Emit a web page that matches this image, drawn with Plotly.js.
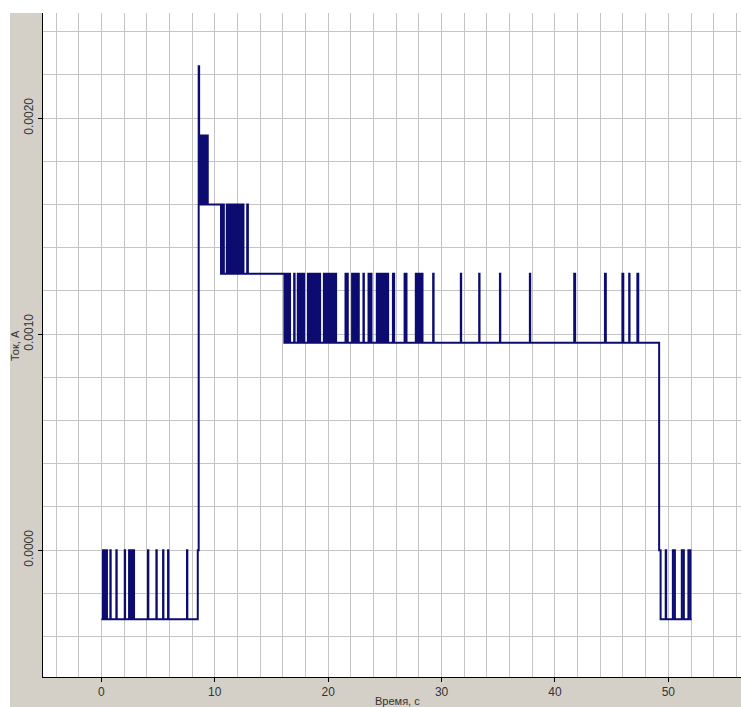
<!DOCTYPE html>
<html>
<head>
<meta charset="utf-8">
<script src="https://cdn.plot.ly/plotly-3.0.1.min.js"></script>
<style>
html,body{margin:0;padding:0;background:#ffffff;}
#chart{width:741px;height:707px;}
</style>
</head>
<body>
<div id="chart"></div>
<script>
// ---- Data (time in s, current in A) ----
// Segment A: idle, switching between -0.00032 A and 0.0000 A
const levelsA = [-0.00032, 0.0000];
const flipsA = [0.14, 0.20, 0.27, 0.34, 0.41, 0.49,
                0.79, 0.82, 1.32, 1.35, 2.06, 2.09,
                2.44, 2.52, 2.60, 2.68, 2.76, 2.88,
                4.11, 4.14, 4.85, 4.88, 5.44, 5.47, 5.88, 5.91, 7.55, 7.58,
                8.50];
// Turn-on peak
const peakTime = 8.58;
const peakLevel = 0.00224;
// Segment B: switching between 0.00160 A and 0.00192 A
const levelsB = [0.00160, 0.00192];
const startB = 8.62;
const flipsB = [8.70, 8.78, 8.86, 8.94, 9.02, 9.10, 9.18, 9.26, 9.38];
// Segment C: switching between 0.00128 A and 0.00160 A
const levelsC = [0.00128, 0.00160];
const flipsC = [10.55, 10.66, 10.80,
                11.06, 11.17, 11.28, 11.39, 11.50, 11.61, 11.72, 11.83, 11.94, 12.05, 12.16, 12.27, 12.38, 12.53,
                12.86, 12.92];
// Segment D: switching between 0.00096 A and 0.00128 A
const levelsD = [0.00096, 0.00128];
const flipsD = [16.14, 16.22, 16.30, 16.38, 16.46, 16.55, 16.64,
                17.00, 17.04,
                17.32, 17.40, 17.48, 17.56, 17.64, 17.72, 17.80, 17.88,
                18.21, 18.31, 18.41, 18.51, 18.61, 18.71, 18.80, 18.90, 19.00, 19.10, 19.20, 19.29,
                19.62, 19.72, 19.82, 19.92, 20.02, 20.12, 20.21, 20.31, 20.41, 20.51, 20.61, 20.70,
                21.53, 21.60, 21.66, 21.73,
                22.11, 22.19, 22.28, 22.36, 22.45, 22.53, 22.62, 22.70,
                23.11, 23.15,
                23.56, 23.65, 23.73, 23.82,
                24.29, 24.38, 24.47, 24.56, 24.65, 24.74, 24.83, 24.92, 25.01, 25.10, 25.20, 25.29,
                25.71, 25.82,
                26.74, 26.80, 26.86, 26.91,
                27.73, 27.81, 27.90, 27.98, 28.07, 28.15, 28.24, 28.32,
                29.26, 29.30,
                31.70, 31.73, 33.32, 33.35, 35.15, 35.18, 37.79, 37.82,
                41.70, 41.78, 44.41, 44.49, 45.95, 46.03, 46.55, 46.58, 47.27, 47.35];
// Turn-off
const offTime = 49.19;
const offLevel = 0.0000;
// Segment F: switching between -0.00032 A and 0.0000 A
const levelsF = [-0.00032, 0.0000];
const flipsF = [49.32, 49.77, 49.81, 50.40, 50.58, 51.19, 51.37, 51.77, 51.95];
const endTime = 52.06;

// Axis ticks
const xTickVals = [0, 10, 20, 30, 40, 50];
const xTickText = ['0', '10', '20', '30', '40', '50'];
const yTickVals = [0.0000, 0.0010, 0.0020];
const yTickText = ['0.0000', '0.0010', '0.0020'];

// ---- Build step signal ----
const xs = [0];
const ys = [levelsA[0]];
function addSegment(levels, startState, flips) {
  let s = startState;
  flips.forEach(function (t) {
    s = 1 - s;
    xs.push(t);
    ys.push(levels[s]);
  });
}
addSegment(levelsA, 0, flipsA);
xs.push(peakTime); ys.push(peakLevel);
xs.push(startB); ys.push(levelsB[1]);
addSegment(levelsB, 1, flipsB);
addSegment(levelsC, 1, flipsC);
addSegment(levelsD, 1, flipsD);
xs.push(offTime); ys.push(offLevel);
addSegment(levelsF, 1, flipsF);
xs.push(endTime); ys.push(levelsF[0]);

const trace = {
  x: xs, y: ys, type: 'scatter', mode: 'lines',
  line: {color: 'rgb(12,12,112)', width: 2, shape: 'hv'},
  hoverinfo: 'skip'
};

const gridCol = '#c4c4c4';
const W = 741, H = 707, L = 43, R = 0, T = 13, B = 30;
const pw = W - L - R, ph = H - T - B;

const layout = {
  width: W, height: H,
  margin: {l: L, r: R, t: T, b: B, pad: 0},
  paper_bgcolor: '#d4d0c8',
  plot_bgcolor: '#ffffff',
  showlegend: false,
  font: {family: '"Liberation Sans", Arial, sans-serif', size: 11, color: '#333333'},
  xaxis: {
    range: [-5.15, 56.41],
    tickmode: 'array', tickvals: xTickVals, ticktext: xTickText,
    ticks: 'outside', ticklen: 4, tickcolor: '#000000', tickwidth: 1,
    showgrid: true, gridcolor: gridCol, gridwidth: 1,
    minor: {dtick: 2, tick0: 0, showgrid: true, gridcolor: gridCol, gridwidth: 1, ticks: ''},
    zeroline: false,
    showline: true, linecolor: '#000000', linewidth: 1,
    tickfont: {size: 12, color: '#333333'},
    fixedrange: true
  },
  yaxis: {
    range: [-0.000587, 0.0024865],
    tickmode: 'array', tickvals: yTickVals, ticktext: yTickText,
    tickangle: -90,
    ticks: 'outside', ticklen: 4, tickcolor: '#000000', tickwidth: 1,
    showgrid: true, gridcolor: gridCol, gridwidth: 1,
    minor: {dtick: 0.0002, tick0: 0, showgrid: true, gridcolor: gridCol, gridwidth: 1, ticks: ''},
    zeroline: false,
    showline: true, linecolor: '#000000', linewidth: 1,
    tickfont: {size: 12, color: '#333333'},
    fixedrange: true
  },
  shapes: [
    {type: 'rect', xref: 'paper', yref: 'paper', x0: -L / pw - 0.01, x1: 1.01, y0: 1, y1: 1 + (T + 2) / ph,
     fillcolor: '#ffffff', line: {width: 0}, layer: 'above'},
    {type: 'rect', xref: 'paper', yref: 'paper', x0: -L / pw - 0.01, x1: (10 - L) / pw, y0: -B / ph - 0.01, y1: 1 + (T + 2) / ph,
     fillcolor: '#ffffff', line: {width: 0}, layer: 'above'}
  ],
  annotations: [
    {text: 'Время, с', xref: 'paper', yref: 'paper', x: (397 - L) / pw, y: -24 / ph,
     xanchor: 'center', yanchor: 'middle', showarrow: false,
     font: {size: 11, color: '#333333'}},
    {text: 'Ток, А', xref: 'paper', yref: 'paper', x: (15 - L) / pw, y: (H - B - 345) / ph,
     xanchor: 'center', yanchor: 'middle', showarrow: false, textangle: -90,
     font: {size: 11, color: '#333333'}}
  ]
};

Plotly.newPlot('chart', [trace], layout, {staticPlot: true, displayModeBar: false});
</script>
</body>
</html>
